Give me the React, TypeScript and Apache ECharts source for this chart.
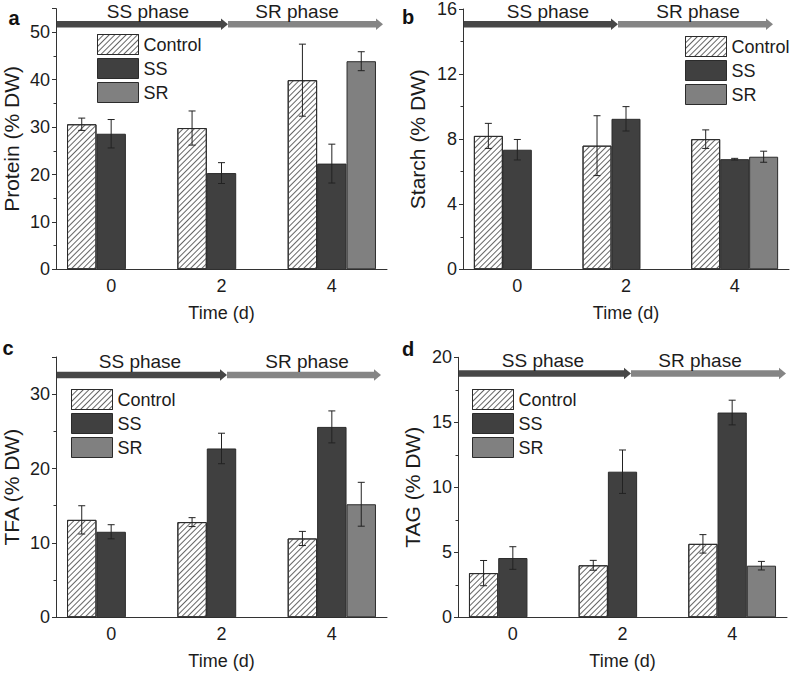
import React, { useEffect, useRef } from "react";
import * as echarts from "echarts";

// ---------- data ----------
const categories = ["0", "2", "4"];
const seriesNames = ["Control", "SS", "SR"];

const proteinControl = [30.6, 29.8, 39.9];
const proteinControlErr = [1.3, 3.6, 7.6];
const proteinSS = [28.6, 20.3, 22.3];
const proteinSSErr = [3.0, 2.2, 4.1];
const proteinSR = [null, null, 43.9];
const proteinSRErr = [null, null, 2.0];

const starchControl = [8.2, 7.6, 8.0];
const starchControlErr = [0.77, 1.84, 0.57];
const starchSS = [7.35, 9.25, 6.77];
const starchSSErr = [0.63, 0.75, 0.05];
const starchSR = [null, null, 6.92];
const starchSRErr = [null, null, 0.34];

const tfaControl = [13.1, 12.8, 10.6];
const tfaControlErr = [1.9, 0.6, 0.95];
const tfaSS = [11.5, 22.7, 25.6];
const tfaSSErr = [0.95, 2.05, 2.15];
const tfaSR = [null, null, 15.2];
const tfaSRErr = [null, null, 2.95];

const tagControl = [3.4, 4.0, 5.65];
const tagControlErr = [0.97, 0.38, 0.71];
const tagSS = [4.56, 11.2, 15.75];
const tagSSErr = [0.87, 1.67, 0.95];
const tagSR = [null, null, 3.97];
const tagSRErr = [null, null, 0.33];

const yTicksProtein = { max: 55, interval: 10, showMax: false };
const yTicksStarch = { max: 16, interval: 4, showMax: true };
const yTicksTFA = { max: 35, interval: 10, showMax: false };
const yTicksTAG = { max: 20, interval: 5, showMax: true };

// ---------- layout / style ----------
const FONT = '"Liberation Sans", Arial, Helvetica, sans-serif';
const TEXT = "#1c1c1c";
const AXIS = "#333";
const DARK = "#404040";
const MID = "#808080";
const ARROW_DARK = "#474747";
const ARROW_LIGHT = "#858585";

const panels = [
  {
    letter: "a", yName: "Protein (% DW)", ticks: yTicksProtein,
    values: [proteinControl, proteinSS, proteinSR],
    errs: [proteinControlErr, proteinSSErr, proteinSRErr],
    grid: { left: 54, top: 8.6, width: 333, height: 260.7 },
    legend: { left: 97, top: 34 },
    letterPos: [14, 18],
    arrowY: 24.3, arrowStart: 56, arrowMid: 228, arrowEnd: 383,
    ssText: [148, 11], srText: [297, 11],
    nameGap: 34,
  },
  {
    letter: "b", yName: "Starch (% DW)", ticks: yTicksStarch,
    values: [starchControl, starchSS, starchSR],
    errs: [starchControlErr, starchSSErr, starchSRErr],
    grid: { left: 463, top: 8.3, width: 326, height: 261 },
    legend: { left: 685, top: 36 },
    letterPos: [408, 17],
    arrowY: 24.3, arrowStart: 464, arrowMid: 618, arrowEnd: 773,
    ssText: [548, 11], srText: [698, 11],
    nameGap: 35,
  },
  {
    letter: "c", yName: "TFA (% DW)", ticks: yTicksTFA,
    values: [tfaControl, tfaSS, tfaSR],
    errs: [tfaControlErr, tfaSSErr, tfaSRErr],
    grid: { left: 56, top: 357, width: 331, height: 260.3 },
    legend: { left: 71, top: 389 },
    letterPos: [8, 348],
    arrowY: 375, arrowStart: 57, arrowMid: 227, arrowEnd: 381,
    ssText: [140, 361], srText: [307, 361],
    nameGap: 34,
  },
  {
    letter: "d", yName: "TAG (% DW)", ticks: yTicksTAG,
    values: [tagControl, tagSS, tagSR],
    errs: [tagControlErr, tagSSErr, tagSRErr],
    grid: { left: 458, top: 357.3, width: 329, height: 260 },
    legend: { left: 472, top: 389 },
    letterPos: [408, 349],
    arrowY: 373.5, arrowStart: 459, arrowMid: 631, arrowEnd: 786,
    ssText: [543, 360], srText: [700, 360],
    nameGap: 35,
  },
];

const hatchDecal = {
  symbol: "rect",
  symbolSize: 1,
  dashArrayX: [1, 0],
  dashArrayY: [1, 2.2],
  rotation: -Math.PI / 4,
  color: "#666",
  backgroundColor: "#fff",
};

const seriesStyles = [
  { color: "#fff", decal: hatchDecal },
  { color: DARK },
  { color: MID },
];

function arrow(x1: number, x2: number, y: number, color: string) {
  const head = 7;
  const halfShaft = 3.2;
  const halfHead = 5.8;
  return {
    type: "group",
    children: [
      {
        type: "rect",
        shape: { x: x1, y: y - halfShaft, width: x2 - head - x1, height: halfShaft * 2 },
        style: { fill: color },
      },
      {
        type: "polygon",
        shape: { points: [[x2 - head, y - halfHead], [x2, y], [x2 - head, y + halfHead]] },
        style: { fill: color },
      },
    ],
  };
}

function buildOption() {
  const grids: any[] = [];
  const xAxes: any[] = [];
  const yAxes: any[] = [];
  const legends: any[] = [];
  const series: any[] = [];
  const graphics: any[] = [];

  panels.forEach((p, gi) => {
    grids.push({ ...p.grid, containLabel: false });
    xAxes.push({
      type: "category",
      gridIndex: gi,
      data: categories,
      boundaryGap: true,
      name: "Time (d)",
      nameLocation: "middle",
      nameGap: 35,
      nameTextStyle: { fontFamily: FONT, fontSize: 18, color: TEXT },
      axisLine: { lineStyle: { color: AXIS, width: 1 } },
      axisTick: { alignWithLabel: true, length: 4, lineStyle: { color: AXIS } },
      axisLabel: { fontFamily: FONT, fontSize: 18, color: TEXT, margin: 8 },
      splitLine: { show: false },
    });
    xAxes.push({
      type: "category",
      gridIndex: gi,
      data: categories,
      boundaryGap: true,
      position: "bottom",
      axisLine: { show: false },
      axisTick: { inside: true, length: 3, lineStyle: { color: AXIS } },
      axisLabel: { show: false },
      splitLine: { show: false },
    });
    yAxes.push({
      type: "value",
      gridIndex: gi,
      min: 0,
      max: p.ticks.max,
      interval: p.ticks.interval,
      name: p.yName,
      nameLocation: "middle",
      nameGap: p.nameGap,
      nameTextStyle: { fontFamily: FONT, fontSize: 21, color: TEXT },
      axisLine: { show: true, lineStyle: { color: AXIS, width: 1 } },
      axisTick: { show: true, length: 4, lineStyle: { color: AXIS } },
      minorTick: { show: true, splitNumber: 2, length: 2.5, lineStyle: { color: AXIS } },
      axisLabel: {
        fontFamily: FONT, fontSize: 18, color: TEXT, margin: 6,
        showMaxLabel: p.ticks.showMax,
        formatter: (v: number) => (v % p.ticks.interval === 0 ? String(v) : ""),
      },
      splitLine: { show: false },
      minorSplitLine: { show: false },
    });
    legends.push({
      orient: "vertical",
      left: p.legend.left,
      top: p.legend.top,
      icon: "rect",
      itemWidth: 41,
      itemHeight: 20,
      itemGap: 3,
      padding: 0,
      selectedMode: false,
      data: seriesNames,
      itemStyle: { borderColor: "#2b2b2b", borderWidth: 1 },
      textStyle: { fontFamily: FONT, fontSize: 18, color: TEXT, padding: [0, 0, 0, 0] },
    });

    seriesNames.forEach((name, si) => {
      series.push({
        type: "bar",
        name,
        xAxisIndex: gi * 2,
        yAxisIndex: gi,
        data: p.values[si].map((v) => (v == null ? "-" : v)),
        barCategoryGap: "20%",
        barGap: "0%",
        itemStyle: { ...seriesStyles[si], borderColor: "#2b2b2b", borderWidth: 1 },
        emphasis: { disabled: true },
        z: 2,
      });
    });

    seriesNames.forEach((name, si) => {
      const data: any[] = [];
      p.values[si].forEach((v, i) => {
        const e = p.errs[si][i];
        if (v != null && e != null) data.push([i, v - e, v + e]);
      });
      series.push({
        type: "custom",
        name: name + " error",
        xAxisIndex: gi * 2,
        yAxisIndex: gi,
        data,
        z: 5,
        silent: true,
        encode: { x: 0, y: [1, 2] },
        renderItem: (params: any, api: any) => {
          const x = api.value(0);
          const lo = api.coord([x, api.value(1)]);
          const hi = api.coord([x, api.value(2)]);
          const band = api.size([1, 0])[0];
          const bw = (band * 0.8) / 3;
          const cx = lo[0] + (si - 1) * bw;
          const cap = 3.5;
          const st = { stroke: "#222", lineWidth: 1, fill: "none" };
          return {
            type: "group",
            children: [
              { type: "line", shape: { x1: cx, y1: hi[1], x2: cx, y2: lo[1] }, style: st },
              { type: "line", shape: { x1: cx - cap, y1: hi[1], x2: cx + cap, y2: hi[1] }, style: st },
              { type: "line", shape: { x1: cx - cap, y1: lo[1], x2: cx + cap, y2: lo[1] }, style: st },
            ],
          };
        },
      });
    });

    graphics.push(arrow(p.arrowStart, p.arrowMid, p.arrowY, ARROW_DARK));
    graphics.push(arrow(p.arrowMid, p.arrowEnd, p.arrowY, ARROW_LIGHT));
    graphics.push({
      type: "text",
      x: p.ssText[0], y: p.ssText[1],
      style: { text: "SS phase", fontFamily: FONT, fontSize: 19, fill: TEXT, textAlign: "center", textVerticalAlign: "middle" },
    });
    graphics.push({
      type: "text",
      x: p.srText[0], y: p.srText[1],
      style: { text: "SR phase", fontFamily: FONT, fontSize: 19, fill: TEXT, textAlign: "center", textVerticalAlign: "middle" },
    });
    graphics.push({
      type: "text",
      x: p.letterPos[0], y: p.letterPos[1],
      style: { text: p.letter, fontFamily: FONT, fontSize: 20, fontWeight: "bold", fill: "#111", textAlign: "center", textVerticalAlign: "middle" },
    });
  });

  return {
    animation: false,
    backgroundColor: "#fff",
    textStyle: { fontFamily: FONT },
    grid: grids,
    xAxis: xAxes,
    yAxis: yAxes,
    legend: legends,
    series,
    graphic: graphics,
  };
}

export default function App() {
  const ref = useRef<HTMLDivElement>(null);
  useEffect(() => {
    if (!ref.current) return;
    const chart = echarts.init(ref.current, undefined, { renderer: "svg" });
    chart.setOption(buildOption() as any);
    return () => chart.dispose();
  }, []);
  return (
    <div
      ref={ref}
      style={{ position: "fixed", left: 0, top: 0, width: 793, height: 674, background: "#fff" }}
    />
  );
}
